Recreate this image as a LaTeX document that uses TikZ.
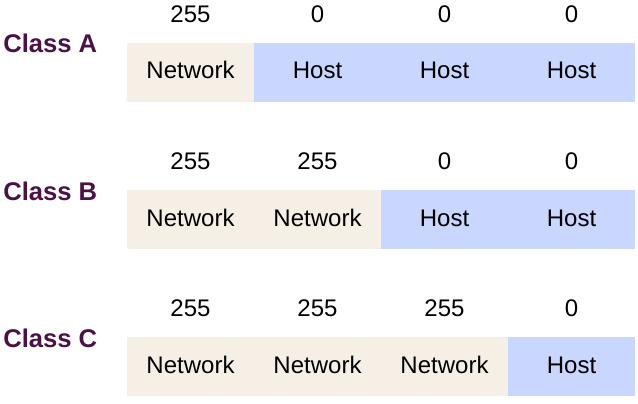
\documentclass[tikz,border=0pt]{standalone}
\usepackage{fontspec}
\setmainfont{Liberation Sans}
\definecolor{netcol}{RGB}{245,239,230}
\definecolor{hostcol}{RGB}{201,214,254}
\definecolor{classcol}{RGB}{75,18,72}
\begin{document}
\begin{tikzpicture}[x=0.75pt, y=-0.75pt,
		net/.style={fill=netcol, minimum width=95.5pt, minimum height=44.5pt, inner sep=0pt,
			text height=9.75pt, text depth=0pt, font=\fontsize{18}{20}\selectfont},
		host/.style={net, fill=hostcol},
		byte/.style={anchor=base, font=\fontsize{18}{20}\selectfont},
		cls/.style={anchor=base west, text=classcol, inner sep=0pt, font=\fontsize{19.2}{22}\selectfont\bfseries}]
		    \useasboundingbox (0,0) rectangle (638,403);
		    % Class A
		    \node[cls] (ca) at (3, 53) {Class A};
		    \node[byte] (a1) at (190.5, 22.7) {255};
		    \node[byte] (a2) at (317.5, 22.7) {0};
		    \node[byte] (a3) at (444.5, 22.7) {0};
		    \node[byte] (a4) at (571.5, 22.7) {0};
		    \node[net]  (na1) at (190.5, 72.5) {Network};
		    \node[host] (ha2) at (317.5, 72.5) {Host};
		    \node[host] (ha3) at (444.5, 72.5) {Host};
		    \node[host] (ha4) at (571.5, 72.5) {Host};
		    % Class B
		    \node[cls] (cb) at (3, 200) {Class B};
		    \node[byte] (b1) at (190.5, 169.7) {255};
		    \node[byte] (b2) at (317.5, 169.7) {255};
		    \node[byte] (b3) at (444.5, 169.7) {0};
		    \node[byte] (b4) at (571.5, 169.7) {0};
		    \node[net]  (nb1) at (190.5, 219.5) {Network};
		    \node[net]  (nb2) at (317.5, 219.5) {Network};
		    \node[host] (hb3) at (444.5, 219.5) {Host};
		    \node[host] (hb4) at (571.5, 219.5) {Host};
		    % Class C
		    \node[cls] (cc) at (3, 347) {Class C};
		    \node[byte] (c1) at (190.5, 316.7) {255};
		    \node[byte] (c2) at (317.5, 316.7) {255};
		    \node[byte] (c3) at (444.5, 316.7) {255};
		    \node[byte] (c4) at (571.5, 316.7) {0};
		    \node[net]  (nc1) at (190.5, 366.5) {Network};
		    \node[net]  (nc2) at (317.5, 366.5) {Network};
		    \node[net]  (nc3) at (444.5, 366.5) {Network};
		    \node[host] (hc4) at (571.5, 366.5) {Host};
		\end{tikzpicture}
\end{document}
